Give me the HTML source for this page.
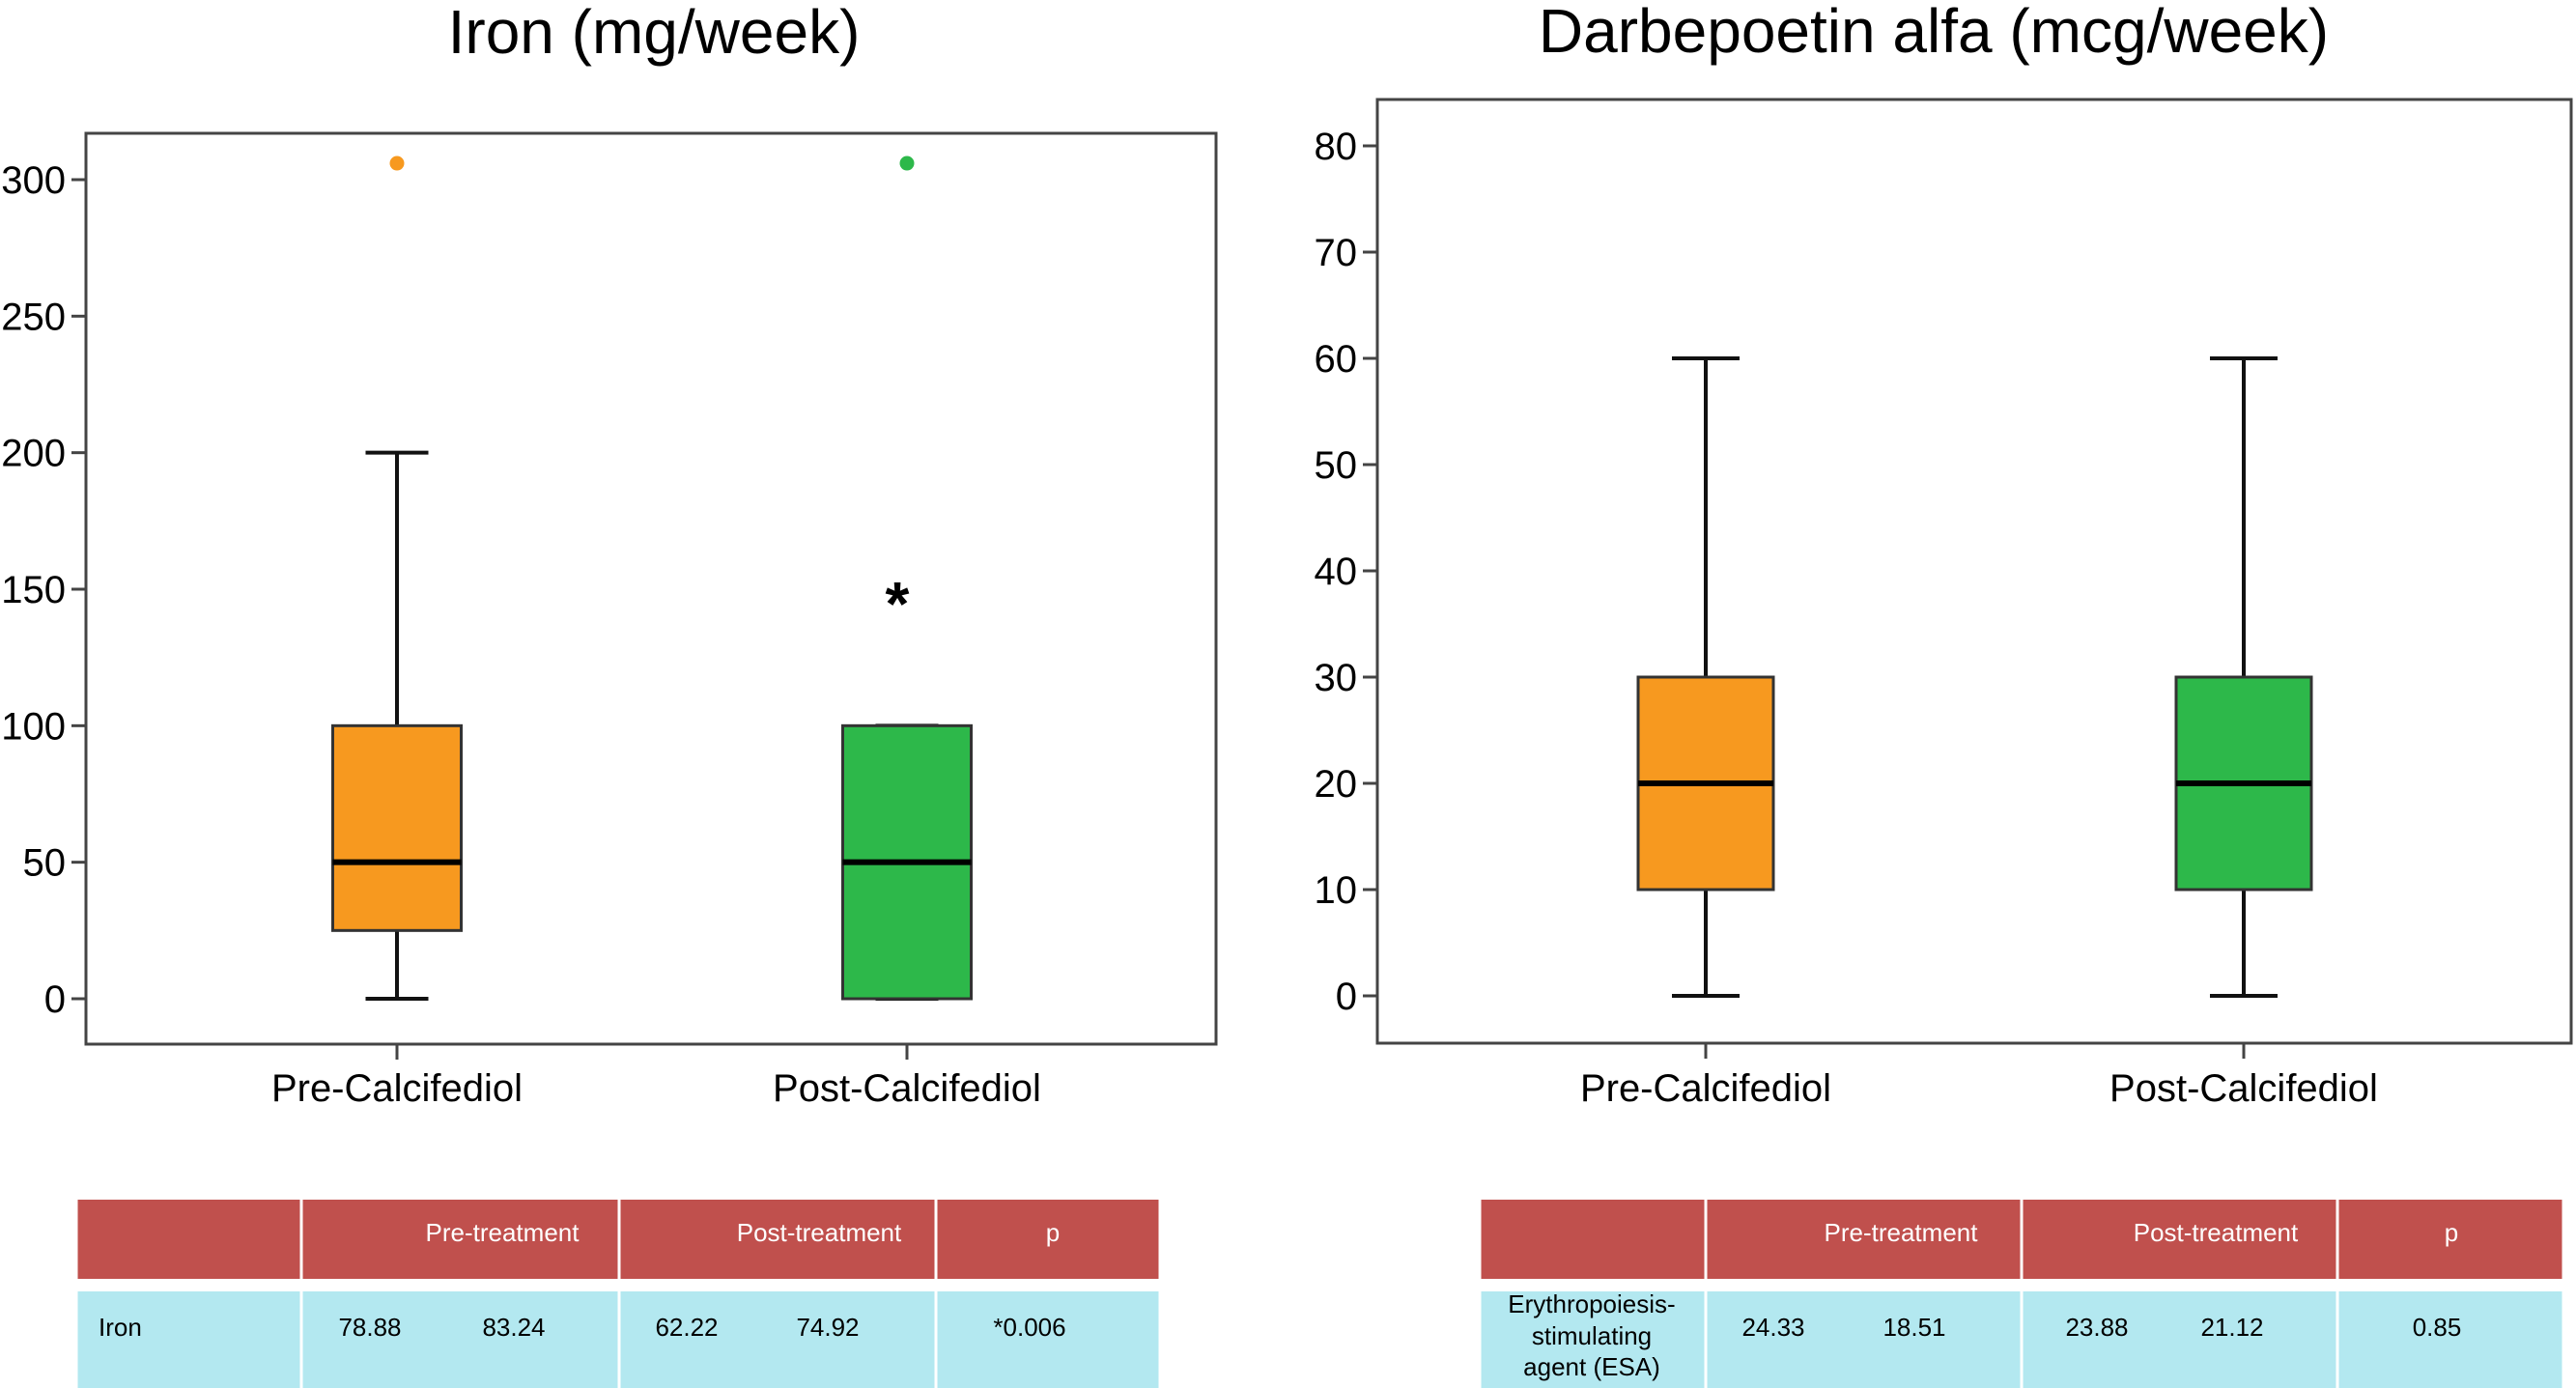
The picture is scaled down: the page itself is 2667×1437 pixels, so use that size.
<!DOCTYPE html>
<html><head><meta charset="utf-8"><style>
html,body{margin:0;padding:0;background:#fff;}
svg{display:block;font-family:"Liberation Sans",Arial,sans-serif;}
</style></head><body>
<svg id="c" width="2667" height="1437" viewBox="0 0 2667 1437" xmlns="http://www.w3.org/2000/svg">
<text x="677" y="55" font-size="64" text-anchor="middle">Iron (mg/week)</text>
<text x="2002" y="54" font-size="64" text-anchor="middle">Darbepoetin alfa (mcg/week)</text>
<g id="p1"></g>
<g id="p2"></g>
<g id="t1"></g>
<g id="t2"></g>
</svg>
<script>
const categories = ["Pre-Calcifediol","Post-Calcifediol"];
const colors = ["#f7991f","#2db84a"];
// Iron box stats: [min, q1, median, q3, max]
const ironStats = [[0,25,50,100,200],[0,0,50,100,100]];
const ironOutliers = [[306],[306]];
const ironExtremes = [[],[149]];
const ironTicks = [0,50,100,150,200,250,300];
const darbStats = [[0,10,20,30,60],[0,10,20,30,60]];
const darbTicks = [0,10,20,30,40,50,60,70,80];
const ironTable = {head:["","Pre-treatment","Post-treatment","p"]};
const ironRow = ["Iron","78.88","83.24","62.22","74.92","*0.006"];
const esaRow = ["Erythropoiesis-|stimulating|agent (ESA)","24.33","18.51","23.88","21.12","0.85"];

const NS="http://www.w3.org/2000/svg";
function mk(parent,tag,attrs,text){const e=document.createElementNS(NS,tag);for(const k in attrs)e.setAttribute(k,attrs[k]);if(text!==undefined)e.textContent=text;parent.appendChild(e);return e;}

function drawPlot(g,cfg){
  const y=v=>cfg.y0+(cfg.yTop-cfg.y0)*(v-0)/(cfg.vTop-0);
  const f=mk(g,'rect',{x:cfg.left,y:cfg.top,width:cfg.right-cfg.left,height:cfg.bottom-cfg.top,fill:'none',stroke:'#444',"stroke-width":3});
  
  
  cfg.ticks.forEach(t=>{
    const l=mk(g,'line',{x1:cfg.left-15,x2:cfg.left,y1:y(t),y2:y(t),stroke:'#444',"stroke-width":3});
    
    
    const tx=mk(g,'text',{x:cfg.left-21,y:y(t)+14,"font-size":40,"text-anchor":"end"},String(t));
    
    
  });
  categories.forEach((c,i)=>{
    const cx=cfg.cx[i], s=cfg.stats[i], hw=cfg.bw/2, cw=cfg.cw/2;
    const xt=mk(g,'line',{x1:cx,x2:cx,y1:cfg.bottom,y2:cfg.bottom+16,stroke:'#444',"stroke-width":3});
    
    
    const lb=mk(g,'text',{x:cx,y:1140,"font-size":40,"text-anchor":"middle"},c);
    
    
    const w1=mk(g,'line',{x1:cx,x2:cx,y1:y(s[0]),y2:y(s[1]),stroke:'#111',"stroke-width":4});
    
    
    const w2=mk(g,'line',{x1:cx,x2:cx,y1:y(s[3]),y2:y(s[4]),stroke:'#111',"stroke-width":4});
    
    
    const c1=mk(g,'line',{x1:cx-cw,x2:cx+cw,y1:y(s[0]),y2:y(s[0]),stroke:'#111',"stroke-width":4});
    
    
    const c2=mk(g,'line',{x1:cx-cw,x2:cx+cw,y1:y(s[4]),y2:y(s[4]),stroke:'#111',"stroke-width":4});
    
    
    const b=mk(g,'rect',{x:cx-hw,y:y(s[3]),width:cfg.bw,height:y(s[1])-y(s[3]),fill:colors[i],stroke:'#333',"stroke-width":3});
    
    
    const m=mk(g,'line',{x1:cx-hw,x2:cx+hw,y1:y(s[2]),y2:y(s[2]),stroke:'#000',"stroke-width":6});
    
    
    (cfg.outliers?cfg.outliers[i]:[]).forEach(v=>{
      const o=mk(g,'circle',{cx:cx,cy:y(v),r:7.5,fill:colors[i]});
      
      
    });
    (cfg.extremes?cfg.extremes[i]:[]).forEach(v=>{
      const o=mk(g,'text',{x:cx-10,y:y(v)+34,"font-size":64,"text-anchor":"middle","font-weight":"bold"},"*");
      
      
    });
  });
}
drawPlot(document.getElementById('p1'),{left:89,right:1259,top:138,bottom:1081,y0:1034,yTop:186,vTop:300,ticks:ironTicks,stats:ironStats,outliers:ironOutliers,extremes:ironExtremes,cx:[411,939],bw:133,cw:65});
drawPlot(document.getElementById('p2'),{left:1426,right:2662,top:103,bottom:1080,y0:1031,yTop:151,vTop:80,ticks:darbTicks,stats:darbStats,cx:[1766,2323],bw:140,cw:70});

function drawTable(g,cfg,row){
  const cols=cfg.cols;
  for(let i=0;i<cols.length-1;i++){
    const h=mk(g,'rect',{x:cols[i]+1.5,y:1242,width:cols[i+1]-cols[i]-3,height:82,fill:'#c0504d'});
    
    
    const b=mk(g,'rect',{x:cols[i]+1.5,y:1337,width:cols[i+1]-cols[i]-3,height:100,fill:'#b3e8f0'});
    
    
  }
  ironTable.head.forEach((h,i)=>{ if(!h)return;
    const t=mk(g,'text',{x:cfg.hx[i],y:1285,"font-size":26,fill:'#fff',"text-anchor":"middle"},h);
    
    
  });
  const lines=row[0].split('|');
  lines.forEach((ln,k)=>{
    const t=mk(g,'text',{x:cfg.lx,y:cfg.ly[k],"font-size":26,"text-anchor":cfg.la},ln);
    
    
  });
  for(let i=1;i<row.length;i++){
    const t=mk(g,'text',{x:cfg.vx[i-1],y:1383,"font-size":26,"text-anchor":"middle"},row[i]);
    
    
  }
}
drawTable(document.getElementById('t1'),{cols:[79,312,641,969,1201],hx:[0,520,848,1090],lx:102,la:'start',ly:[1383],vx:[383,532,711,857,1066]},ironRow);
drawTable(document.getElementById('t2'),{cols:[1532,1766,2093,2420,2654],hx:[0,1968,2294,2538],lx:1648,la:'middle',ly:[1359,1392,1424],vx:[1836,1982,2171,2311,2523]},esaRow);
</script>
</body></html>
